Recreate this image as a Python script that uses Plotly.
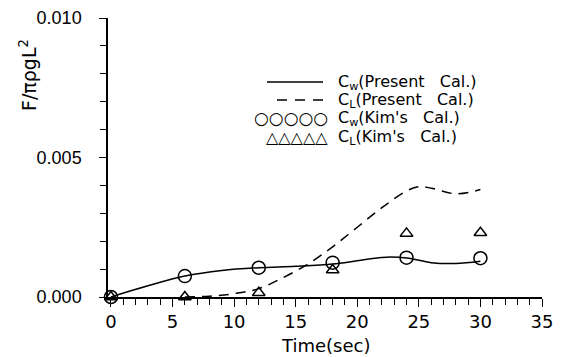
import plotly.graph_objects as go

# Data
t_line = [0, 3, 6, 9, 12, 15, 18, 20, 22, 24, 26, 28, 30]
cw_present = [0.0, 0.0004, 0.00075, 0.00095, 0.00105, 0.0011, 0.00118, 0.0013, 0.00142, 0.0014, 0.00123, 0.0012, 0.00128]

t_dash = [6, 8, 10, 12, 14, 16, 18, 20, 22, 24, 25, 26, 28, 30]
cl_present = [0.0, 0.00003, 0.00012, 0.0003, 0.0007, 0.00118, 0.0018, 0.0025, 0.0032, 0.0038, 0.00395, 0.0039, 0.0037, 0.00385]

t_kim = [0, 6, 12, 18, 24, 30]
cw_kim = [0.0, 0.00075, 0.00105, 0.00123, 0.00141, 0.00139]
cl_kim = [0.0, 0.0, 0.00015, 0.00097, 0.00228, 0.0023]

x_ticks = [0, 5, 10, 15, 20, 25, 30, 35]
y_ticks = [0.0, 0.005, 0.010]
y_tick_text = ["0.000", "0.005", "0.010"]

NB = "\u00a0"
legend_labels = ["C<sub>w</sub>(Present" + NB * 3 + "Cal.)", "C<sub>L</sub>(Present" + NB * 3 + "Cal.)",
                 "C<sub>w</sub>(Kim's" + NB * 3 + "Cal.)", "C<sub>L</sub>(Kim's" + NB * 3 + "Cal.)"]

FONT = "DejaVu Sans"

fig = go.Figure()
fig.add_trace(go.Scatter(x=t_line, y=cw_present, mode="lines",
                         line=dict(color="black", width=1.5, shape="spline", smoothing=1.0),
                         cliponaxis=False, showlegend=False))
fig.add_trace(go.Scatter(x=t_dash, y=cl_present, mode="lines",
                         line=dict(color="black", width=1.5, dash="10px,7px", shape="spline", smoothing=1.0),
                         cliponaxis=False, showlegend=False))
fig.add_trace(go.Scatter(x=t_kim, y=cw_kim, mode="markers",
                         marker=dict(symbol="circle-open", size=13, color="black", line=dict(width=1.5)),
                         cliponaxis=False, showlegend=False))
fig.add_trace(go.Scatter(x=t_kim, y=cl_kim, mode="markers",
                         marker=dict(symbol="triangle-up-open", size=11, color="black", line=dict(width=1.5)),
                         cliponaxis=False, showlegend=False))

# Custom legend (paper coords)
rows_y = [82, 100, 118, 137]
H, W = 357, 562
L, R, T, B = 108, 542, 18, 297
def py(p):
    return (B - p) / float(B - T)
def px(p):
    return (p - L) / float(R - L)

fig.add_shape(type="line", xref="paper", yref="paper",
              x0=px(267), x1=px(323), y0=py(rows_y[0]), y1=py(rows_y[0]),
              line=dict(color="black", width=1.5))
fig.add_shape(type="line", xref="paper", yref="paper",
              x0=px(277), x1=px(326), y0=py(rows_y[1]), y1=py(rows_y[1]),
              line=dict(color="black", width=1.5, dash="10px,8px"))
fig.add_annotation(xref="paper", yref="paper", x=px(330), y=py(rows_y[2]),
                   text="○○○○○", showarrow=False, xanchor="right", yanchor="middle",
                   font=dict(family=FONT, size=17, color="black"))
fig.add_annotation(xref="paper", yref="paper", x=px(330), y=py(rows_y[3]),
                   text="△△△△△", showarrow=False, xanchor="right", yanchor="middle",
                   font=dict(family=FONT, size=16, color="black"))
for lab, yy in zip(legend_labels, rows_y):
    fig.add_annotation(xref="paper", yref="paper", x=px(336), y=py(yy),
                       text=lab, showarrow=False, xanchor="left", yanchor="middle",
                       font=dict(family=FONT, size=16, color="black"))

# y title
fig.add_annotation(xref="paper", yref="paper", x=px(28), y=py(75),
                   text="F/πρgL<sup>2</sup>", textangle=-90, showarrow=False,
                   xanchor="center", yanchor="middle",
                   font=dict(family=FONT, size=19, color="black"))
# x title
fig.add_annotation(xref="paper", yref="paper", x=px(325), y=py(345),
                   text="Time(sec)", showarrow=False,
                   xanchor="center", yanchor="middle",
                   font=dict(family=FONT, size=18, color="black"))

fig.update_layout(
    width=W, height=H,
    margin=dict(l=L, r=W - R, t=T, b=H - B, autoexpand=False),
    paper_bgcolor="white", plot_bgcolor="white",
    font=dict(family=FONT, size=18, color="black"),
    showlegend=False,
    xaxis=dict(range=[-0.24, 35], tickvals=x_ticks, ticks="outside", ticklen=8,
               tickwidth=1.2, tickcolor="black", showline=True, linecolor="black",
               linewidth=1.5, showgrid=False, zeroline=False, automargin=False,
               minor=dict(dtick=1, ticks="outside", ticklen=6, tickcolor="black", tickwidth=1),
               tickfont=dict(size=18), ticklabelstandoff=0),
    yaxis=dict(range=[0, 0.010], tickvals=y_ticks, ticktext=y_tick_text, ticks="outside",
               ticklen=7, tickwidth=1.2, tickcolor="black", showline=True, linecolor="black",
               linewidth=1.5, showgrid=False, zeroline=False, automargin=False,
               minor=dict(dtick=0.001, ticks="outside", ticklen=6, tickcolor="black", tickwidth=1),
               tickfont=dict(family="Liberation Sans", size=18), ticklabelstandoff=14),
)

fig.write_html("out.html")
